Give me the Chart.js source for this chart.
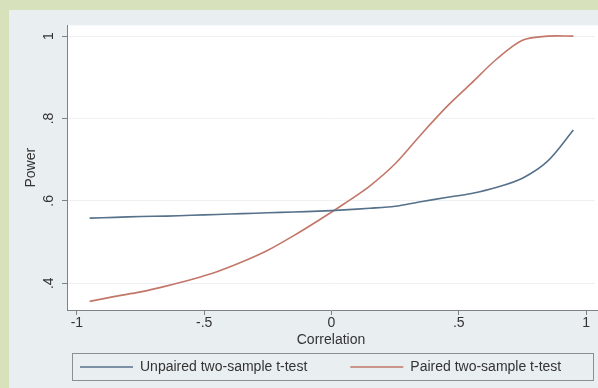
<!DOCTYPE html>
<html>
<head>
<meta charset="utf-8">
<script src="https://cdn.jsdelivr.net/npm/chart.js@4"></script>
<style>
  html, body { margin: 0; padding: 0; }
  body { width: 598px; height: 388px; background: #d7e2bd; position: relative; overflow: hidden; }
  #wrap { position: absolute; left: 9px; top: 10px; width: 589px; height: 378px; background: #e9eff1; }
</style>
</head>
<body>
<div id="wrap"><canvas id="grafico" width="589" height="378"></canvas></div>
<script>
// Dados ======================================================================

const correlation = [-0.95, -0.85, -0.75, -0.65, -0.55, -0.45, -0.35, -0.25, -0.15, -0.05,
  0.05, 0.15, 0.25, 0.35, 0.45, 0.55, 0.65, 0.75, 0.85, 0.95];
const unpaired = [0.558, 0.560, 0.562, 0.563, 0.565, 0.567, 0.569, 0.571, 0.573, 0.575,
  0.578, 0.582, 0.587, 0.598, 0.608, 0.618, 0.633, 0.655, 0.697, 0.772];
const paired = [0.356, 0.368, 0.379, 0.393, 0.409, 0.428, 0.452, 0.480, 0.515, 0.553,
  0.593, 0.636, 0.690, 0.760, 0.827, 0.886, 0.945, 0.990, 1.0, 1.0];
const xTicks = [-1, -0.5, 0, 0.5, 1];
const yTicks = [0.4, 0.6, 0.8, 1];

const fmt = (v) => String(v).replace(/^(-?)0\./, "$1.");
const font = { family: "'Liberation Sans', Arial, sans-serif", size: 14 };

// plugins ====================================================================

const fundo = {
  id: "fundo",
  beforeDraw(chart) {
    const a = chart.chartArea;
    const ctx = chart.ctx;
    ctx.save();
    ctx.fillStyle = "#ffffff";
    ctx.fillRect(a.left, a.top, a.right - a.left + 9, a.bottom - a.top);
    ctx.restore();
  },
  afterLayout(chart) {
    // posição da legenda, como no Stata
    const lg = chart.legend;
    const p = lg.options.labels.padding;
    lg.left = 71 - p;
    lg.right = 900;
    lg.top = 357 - p - 7;
  },
  afterDraw(chart) {
    const a = chart.chartArea;
    const ctx = chart.ctx;
    ctx.save();
    ctx.strokeStyle = "#7d8286";
    ctx.lineWidth = 1;
    ctx.beginPath();
    ctx.moveTo(a.right, a.bottom + 0.5);
    ctx.lineTo(a.right + 9, a.bottom + 0.5);
    ctx.stroke();
    ctx.strokeStyle = "#8a8f93";
    ctx.strokeRect(63.5, 343.5, 521, 27);
    ctx.restore();
  },
};

const data = {
  datasets: [
    {
      label: "Unpaired two-sample t-test",
      data: correlation.map((c, i) => ({ x: c, y: unpaired[i] })),
      borderColor: "#56718a",
      backgroundColor: "#56718a",
      borderWidth: 1.6,
      pointRadius: 0,
      tension: 0.3,
    },
    {
      label: "Paired two-sample t-test",
      data: correlation.map((c, i) => ({ x: c, y: paired[i] })),
      borderColor: "#c27769",
      backgroundColor: "#c27769",
      borderWidth: 1.6,
      pointRadius: 0,
      tension: 0.3,
    },
  ],
};

const config = {
  type: "line",
  data: data,
  plugins: [fundo],
  options: {
    responsive: false,
    animation: false,
    layout: { padding: { left: 0, right: 3, top: 12, bottom: 10 } },
    scales: {
      x: {
        type: "linear",
        min: -1.039,
        max: 1.035,
        afterFit: (s) => { s.height = 40; },
        afterBuildTicks: (s) => { s.ticks = xTicks.map((v) => ({ value: v })); },
        border: { color: "#7d8286", width: 1 },
        grid: { drawOnChartArea: false, tickLength: 5, tickColor: "#7d8286" },
        ticks: { color: "#333", font: font, padding: 0, maxRotation: 0, callback: (v) => fmt(v) },
        title: { display: true, text: "Correlation", color: "#333", font: font, padding: { top: 0, bottom: 1 } },
      },
      y: {
        min: 0.335,
        max: 1.026,
        afterFit: (s) => { s.width = 58; },
        afterBuildTicks: (s) => { s.ticks = yTicks.map((v) => ({ value: v })); },
        border: { color: "#7d8286", width: 1 },
        grid: { color: "#eef1f3", tickLength: 5, tickColor: "#7d8286" },
        ticks: { color: "#333", font: font, padding: 7, minRotation: 90, maxRotation: 90, crossAlign: "center", callback: (v) => fmt(v) },
        title: { display: true, text: "Power", color: "#333", font: font, padding: { top: 14, bottom: 0 } },
      },
    },
    plugins: {
      tooltip: { enabled: false },
      legend: {
        position: "bottom",
        align: "start",
        maxHeight: 28,
        labels: {
          usePointStyle: true,
          pointStyle: "line",
          pointStyleWidth: 53,
          padding: 43,
          color: "#333",
          font: font,
        },
      },
    },
  },
};

const grafico = new Chart(document.getElementById("grafico"), config);
</script>
</body>
</html>
